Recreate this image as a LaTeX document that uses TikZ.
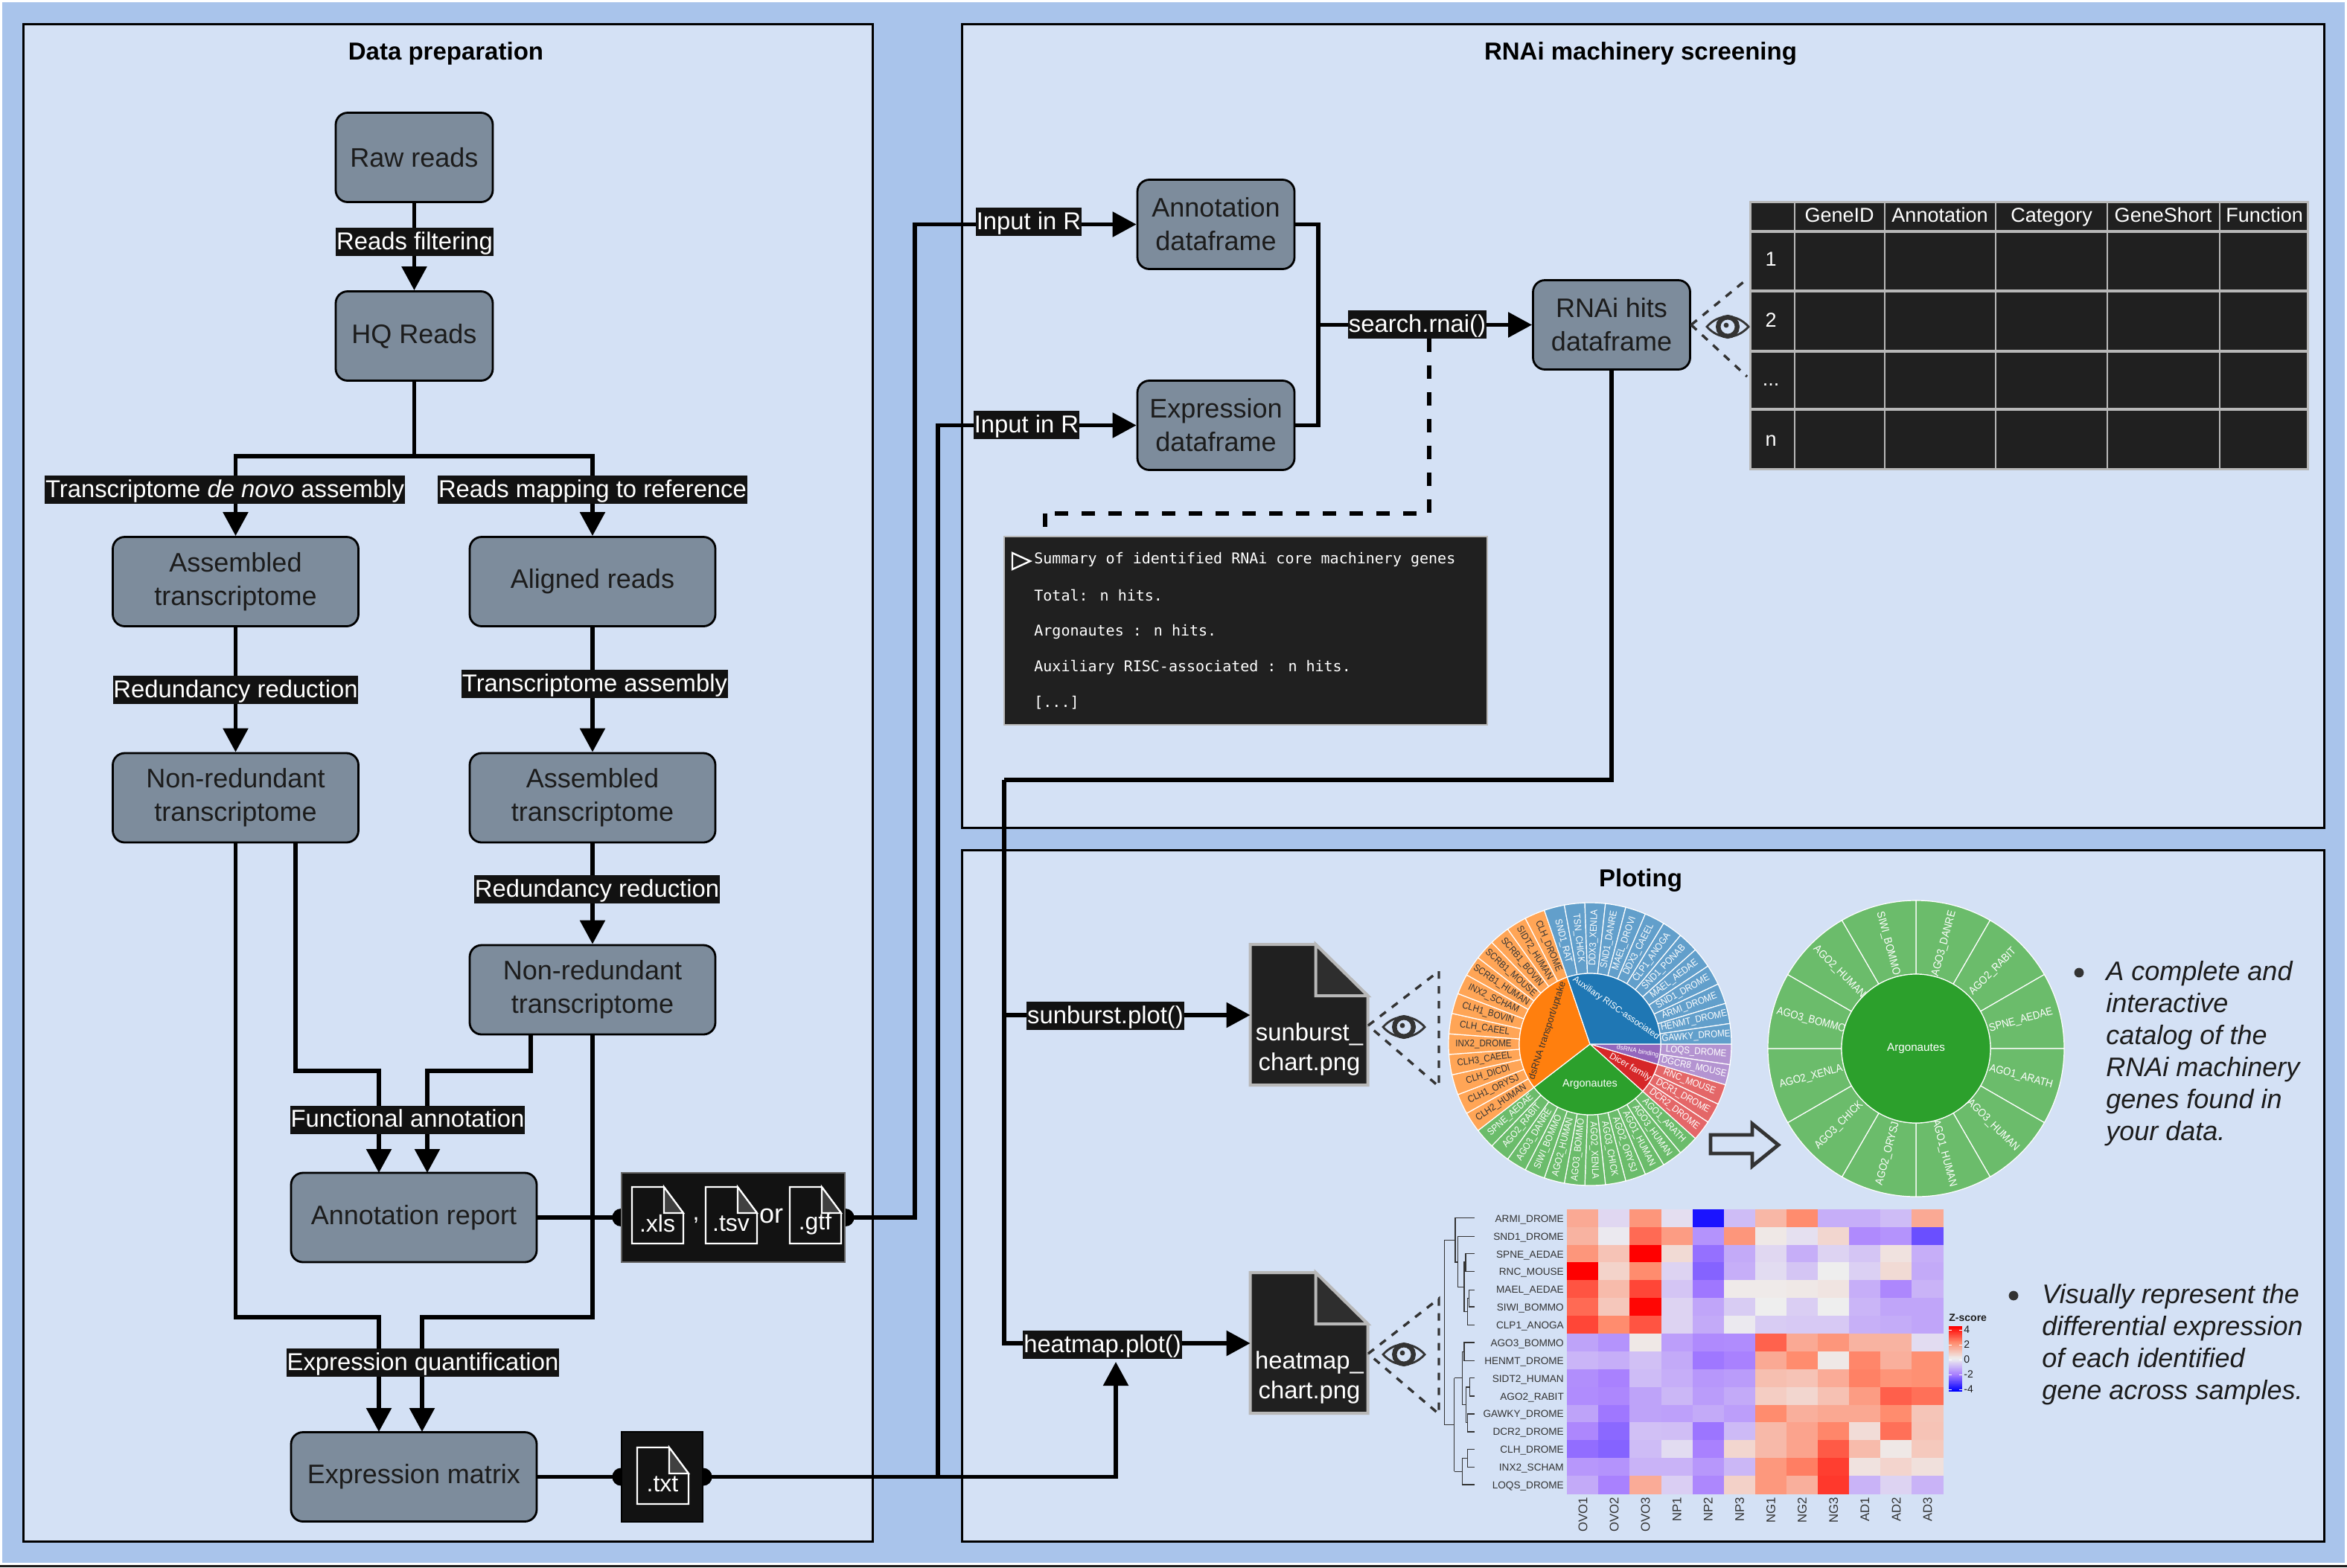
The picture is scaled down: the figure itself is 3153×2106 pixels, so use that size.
\documentclass[tikz,border=0pt]{standalone}
\usepackage{fontspec}
\setmainfont{Liberation Sans}
\newfontfamily\termfont{DejaVu Sans Mono}
\newfontfamily\narrowfont[FakeStretch=0.89]{Liberation Sans}
\usetikzlibrary{arrows.meta}

\definecolor{pagebg}{HTML}{A9C4EB}
\definecolor{panelbg}{HTML}{D4E1F5}
\definecolor{boxgrey}{HTML}{7D8C9C}
\definecolor{inkdark}{HTML}{1C1C1C}
\definecolor{tabledark}{HTML}{202020}
\definecolor{filedark}{HTML}{121212}
\definecolor{rimgrey}{HTML}{B8B8B8}
\definecolor{eyegrey}{HTML}{333333}
\definecolor{hmzero}{HTML}{EEEEEE}
\definecolor{hmhot}{HTML}{FF8C6E}
\definecolor{hmcold}{HTML}{A67CFF}
\definecolor{sunblue}{HTML}{1F77B4}
\definecolor{sunorange}{HTML}{FF7F0E}
\definecolor{sungreen}{HTML}{2CA02C}
\definecolor{sunred}{HTML}{D62728}
\definecolor{sunpurple}{HTML}{9467BD}
\definecolor{leafblue}{HTML}{629FCB}
\definecolor{leaforange}{HTML}{FFA556}
\definecolor{leafgreen}{HTML}{6BBC6B}
\definecolor{leafred}{HTML}{E46768}
\definecolor{leafpurple}{HTML}{B494D1}

\tikzset{
    panelbox/.style={draw=black, line width=1.5pt, fill=panelbg},
    paneltitle/.style={font=\fontsize{16.5}{20}\selectfont\bfseries, text=black},
    flowbox/.style={draw=black, line width=1.4pt, fill=boxgrey, rounded corners=8pt, text=inkdark,
        align=center, inner sep=0pt, minimum width=165pt, minimum height=60pt,
        font=\fontsize{18}{22.5}\selectfont},
    smallbox/.style={flowbox, minimum width=105.5pt},
    tworow/.style={execute at begin node=\rule{0pt}{15pt}},
    steplabel/.style={fill=filedark, text=white, inner xsep=0.4pt, inner ysep=0pt,
        text height=13.5pt, text depth=3.3pt, minimum height=19pt, font=\fontsize{16.4}{19}\selectfont},
    link/.style={line width=2.8pt},
    flow/.style={link, -{Triangle[length=16pt,width=16.5pt]}},
    searchdash/.style={line width=2.8pt, dash pattern=on 9pt off 9pt},
    filebox/.style={fill=filedark, draw=black!60, line width=0.6pt, inner sep=0pt},
    filetext/.style={text=white, inner sep=0pt, font=\fontsize{16}{19}\selectfont},
    docbox/.style={inner sep=0pt, minimum width=79pt, minimum height=94.5pt},
    docrim/.style={draw=rimgrey, line width=2pt, fill=tabledark},
    doctext/.style={text=white, align=center, inner sep=0pt, font=\fontsize{16.4}{20}\selectfont},
    lookline/.style={draw=eyegrey, line width=1.7pt, dash pattern=on 5pt off 5pt},
    tablehead/.style={text=white, inner sep=0pt, text height=10pt, text depth=3pt,
        font=\fontsize{13.5}{16}\selectfont},
    termline/.style={text=white, anchor=west, inner sep=0pt, font=\termfont\fontsize{10}{12}\selectfont},
    notetext/.style={text=inkdark, anchor=west, align=left, inner sep=0pt,
        font=\fontsize{18}{21.5}\selectfont\itshape},
    sunwedge/.style={draw=white, line width=0.6pt},
    leaftext/.style={inner sep=0pt, font=\narrowfont\fontsize{6.5}{7}\selectfont},
    hmtext/.style={text=eyegrey, inner sep=0pt},
    eyeicon/.pic={
        \draw[eyegrey, line width=1.4pt] (-14pt,0) .. controls (-6pt,9pt) and (6pt,9pt) .. (14pt,0)
            .. controls (6pt,-9pt) and (-6pt,-9pt) .. (-14pt,0) -- cycle;
        \draw[eyegrey, line width=3.2pt] (0,0) circle (6.4pt);
        \fill[eyegrey] (-1pt,1pt) circle (1.7pt);
    }
}

\newcommand{\rowdots}{...}

% name, top left corner, extension
\newcommand{\fileicon}[3]{
    \coordinate (#1) at (#2);
    \draw[white, line width=1.1pt, fill=filedark] (#1) -- ++(43,0) -- ++(26,35) -- ++(0,41) -- ++(-69,0) -- cycle;
    \draw[white, line width=1.1pt, fill=black!75] (#1) ++(43,0) -- ++(26,35) -- ++(-26,0) -- cycle;
    \node[filetext] (#1text) at ([xshift=17pt,yshift=-24.5pt]#1) {#3};
}

% name, centre, text
\newcommand{\chartdoc}[3]{
    \node[docbox] (#1) at (#2) {};
    \draw[docrim] (#1.north west) -- ++(88,0) -- ++(70,69) -- ++(0,120) -- ++(-158,0) -- cycle;
    \draw[docrim, fill=black!82] (#1.north west) ++(88,0) -- ++(70,69) -- ++(-70,0) -- cycle;
    \node[doctext] (#1text) at ([yshift=-23pt]#1.center) {#3};
}

\newcommand{\hmsetcolor}[1]{
    \pgfmathtruncatemacro{\hmmix}{2*abs(#1)}
    \ifnum#1>50
        \pgfmathtruncatemacro{\hmmix}{2*(#1)-100}
        \colorlet{hmcell}{red!\hmmix!hmhot}
    \else\ifnum#1>-1
        \colorlet{hmcell}{hmhot!\hmmix!hmzero}
    \else\ifnum#1>-51
        \colorlet{hmcell}{hmcold!\hmmix!hmzero}
    \else
        \pgfmathtruncatemacro{\hmmix}{-2*(#1)-100}
        \colorlet{hmcell}{blue!\hmmix!hmcold}
    \fi\fi\fi
}

\begin{document}
\begin{tikzpicture}[x=0.5pt, y=-0.5pt]
    \useasboundingbox (0,0) rectangle (3153,2106);
    \fill[pagebg] (3,3) rectangle (3150,2100);
    \fill[inkdark] (0,2103) rectangle (3153,2106);

    % panels
    \draw[panelbox] (31.5,32) rectangle (1172,2071);
    \draw[panelbox] (1292,32) rectangle (3122,1112);
    \draw[panelbox] (1292,1142) rectangle (3122,2071);
    \node[paneltitle] (datatitle) at (599,72) {Data preparation};
    \node[paneltitle] (screentitle) at (2204,72) {RNAi machinery screening};
    \node[paneltitle] (plottitle) at (2204,1183) {Ploting};

    % data preparation
    \node[smallbox] (rawreads) at (556.5,211.5) {Raw reads};
    \node[smallbox] (hqreads) at (556.5,451.5) {HQ Reads};
    \node[flowbox, tworow] (assemL) at (316.5,781.5) {Assembled\\transcriptome};
    \node[flowbox] (aligned) at (796,781.5) {Aligned reads};
    \node[flowbox, tworow] (nonredL) at (316.5,1072) {Non-redundant\\transcriptome};
    \node[flowbox, tworow] (assemR) at (796,1072) {Assembled\\transcriptome};
    \node[flowbox, tworow] (nonredR) at (796,1330) {Non-redundant\\transcriptome};
    \node[flowbox] (annotreport) at (556,1636) {Annotation report};
    \node[flowbox] (exprmatrix) at (556,1984.5) {Expression matrix};
    \node[filebox, minimum width=150pt, minimum height=60pt] (xlsbox) at (985,1636) {};
    \node[filebox, minimum width=54.5pt, minimum height=60.5pt, draw=black] (txtbox) at (889.5,1984.5) {};

    % dataframes
    \node[smallbox] (annodf) at (1633.5,301.5) {Annotation\\dataframe};
    \node[smallbox] (exprdf) at (1633.5,571.5) {Expression\\dataframe};
    \node[smallbox] (rnaihits) at (2165,436.5) {RNAi hits\\dataframe};
    \chartdoc{sunburstdoc}{1759,1364}{sunburst\_\\chart.png}
    \chartdoc{heatmapdoc}{1759,1805}{heatmap\_\\chart.png}

    \coordinate (branch) at (556.5,613);
    \coordinate (nrlout) at (397,1132);
    \coordinate (nrrout) at (713,1391);
    \coordinate (annotinA) at (509,1576);
    \coordinate (annotinB) at (574,1576);
    \coordinate (exprinA) at (509,1924);
    \coordinate (exprinB) at (567,1924);
    \coordinate (searchjoin) at (1771,436.5);
    \coordinate (hitsturn) at (1349,1048);
    \coordinate (hitsbranch) at (1349,1364);
    \coordinate (heatin) at (1499,1830);
    \coordinate (dashtop) at (1920,455);
    \coordinate (dashturn) at (1404,690);
    \coordinate (dashend) at (1404,722);

    \draw[flow] (rawreads.south) -- (hqreads.north);
    \draw[link] (hqreads.south) -- (branch);
    \draw[flow] (branch) -| (assemL.north);
    \draw[flow] (branch) -| (aligned.north);
    \draw[flow] (assemL.south) -- (nonredL.north);
    \draw[flow] (aligned.south) -- (assemR.north);
    \draw[flow] (assemR.south) -- (nonredR.north);
    \draw[flow] (nrlout) -- (397,1439) -| (annotinA);
    \draw[flow] (nrrout) -- (713,1439) -| (annotinB);
    \draw[flow] (nonredL.south) -- (316.5,1770) -| (exprinA);
    \draw[flow] (nonredR.south) -- (796,1770) -| (exprinB);
    \draw[link] (annotreport.east) -- (xlsbox.west);
    \draw[link] (exprmatrix.east) -- (txtbox.west);
    \draw[flow] (xlsbox.east) -- (1229,1636) |- (annodf.west);
    \draw[flow] (txtbox.east) -- (1260,1984.5) |- (exprdf.west);
    \draw[flow] (txtbox.east) -| (heatin);
    \draw[link] (annodf.east) -| (searchjoin);
    \draw[link] (exprdf.east) -| (searchjoin);
    \draw[flow] (searchjoin) -- (rnaihits.west);
    \draw[link] (rnaihits.south) |- (hitsturn);
    \draw[flow] (hitsturn) |- (heatmapdoc.west);
    \draw[flow] (hitsbranch) -- (sunburstdoc.west);
    \draw[searchdash] (dashtop) |- (dashturn);
    \draw[searchdash] (dashturn) -- (dashend);

    \foreach \dot in {xlsbox.west, xlsbox.east, txtbox.west, txtbox.east} {
        \fill[black] (\dot) circle (6pt);
    }
    % boxes again over the dots
    \node[filebox, minimum width=150pt, minimum height=60pt] (xlsfront) at (985,1636) {};
    \node[filebox, minimum width=54.5pt, minimum height=60.5pt, draw=black] (txtfront) at (889.5,1984.5) {};
    \fileicon{xlsicon}{849,1595}{.xls}
    \fileicon{tsvicon}{948,1595}{.tsv}
    \fileicon{gtficon}{1061,1595}{.gtf}
    \fileicon{txticon}{856,1945}{.txt}
    \node[filetext] (xlscomma) at (935,1640) {,};
    \node[filetext, font=\fontsize{18}{20}\selectfont] (xlsor) at (1036,1634) {or};

    % labels on the connectors
    \node[steplabel] (filterlabel) at (557,325) {Reads filtering};
    \node[steplabel] (denovolabel) at (302,658) {Transcriptome \textit{de novo} assembly};
    \node[steplabel] (mappinglabel) at (796,658) {Reads mapping to reference};
    \node[steplabel] (reduceLlabel) at (316.5,927) {Redundancy reduction};
    \node[steplabel] (assemblylabel) at (799,919) {Transcriptome assembly};
    \node[steplabel] (reduceRlabel) at (802,1195) {Redundancy reduction};
    \node[steplabel] (annotlabel) at (547.5,1504.5) {Functional annotation};
    \node[steplabel] (quantlabel) at (568,1831) {Expression quantification};
    \node[steplabel] (inputAlabel) at (1382,298) {Input in R};
    \node[steplabel] (inputBlabel) at (1379,571) {Input in R};
    \node[steplabel] (searchlabel) at (1904,436) {search.rnai()};
    \node[steplabel] (sunburstlabel) at (1485,1365) {sunburst.plot()};
    \node[steplabel] (heatmaplabel) at (1481,1807) {heatmap.plot()};

    % hits table
    \fill[tabledark] (2351,271) rectangle (3100.5,630.5);
    \foreach \colx in {2411,2532,2681,2831,2982} {
        \draw[rimgrey, line width=1pt] (\colx,271) -- (\colx,630.5);
    }
    \foreach \rowy in {311,391,472,550} {
        \draw[rimgrey, line width=1.6pt] (2351,\rowy) -- (3100.5,\rowy);
    }
    \draw[rimgrey, line width=1.5pt] (2351,271) rectangle (3100.5,630.5);
    \foreach \head/\colx in {GeneID/2471, Annotation/2606, Category/2756, GeneShort/2906, Function/3042} {
        \node[tablehead] (head\head) at (\colx,291) {\head};
    }
    \foreach \rowname/\rowy in {1/350, 2/432, \rowdots/511, n/592} {
        \node[tablehead] (row\rowy) at (2379,\rowy) {\rowname};
    }
    \coordinate (tablelookA) at (2347,375);
    \coordinate (tablelookB) at (2347,506);
    \draw[lookline] (rnaihits.east) -- (tablelookA);
    \draw[lookline] (rnaihits.east) -- (tablelookB);
    \pic at (2321,439) {eyeicon};

    % summary terminal
    \draw[rimgrey, line width=1.2pt, fill=tabledark] (1349,721) rectangle (1998,974);
    \draw[white, line width=1.2pt] (1360,743) -- (1384,754) -- (1360,765) -- cycle;
    \node[termline] (termA) at (1389,752) {Summary of identified RNAi core machinery genes};
    \node[termline] (termB) at (1389,800) {Total: n hits.};
    \node[termline] (termC) at (1389,849) {Argonautes : n hits.};
    \node[termline] (termD) at (1389,897) {Auxiliary RISC-associated : n hits.};
    \node[termline] (termE) at (1389,944) {[...]};

    % looks from the documents to the charts
    \coordinate (sunlookA) at (1933,1305);
    \coordinate (sunlookB) at (1933,1460);
    \coordinate (heatlookA) at (1933,1745);
    \coordinate (heatlookB) at (1933,1900);
    \draw[lookline] (1838,1378) -- (sunlookA) -- (sunlookB) -- (1838,1378);
    \draw[lookline] (1838,1819) -- (heatlookA) -- (heatlookB) -- (1838,1819);
    \pic at (1886,1380) {eyeicon};
    \pic at (1886,1820) {eyeicon};

    % full sunburst
    \begin{scope}[shift={(2136,1403)}]
        \foreach \leaf/\fillcol/\textcol [count=\n from 0] in {
            LOQS\_DROME/leafpurple/white, DGCR8\_MOUSE/leafpurple/white,
            RNC\_MOUSE/leafred/white, DCR1\_DROME/leafred/white, DCR2\_DROME/leafred/white,
            AGO1\_ARATH/leafgreen/white, AGO3\_HUMAN/leafgreen/white, AGO1\_HUMAN/leafgreen/white,
            AGO2\_ORYSJ/leafgreen/white, AGO3\_CHICK/leafgreen/white, AGO2\_XENLA/leafgreen/white,
            AGO3\_BOMMO/leafgreen/white, AGO2\_HUMAN/leafgreen/white, SIWI\_BOMMO/leafgreen/white,
            AGO3\_DANRE/leafgreen/white, AGO2\_RABIT/leafgreen/white, SPNE\_AEDAE/leafgreen/white,
            CLH2\_HUMAN/leaforange/eyegrey, CLH1\_ORYSJ/leaforange/eyegrey, CLH\_DICDI/leaforange/eyegrey,
            CLH3\_CAEEL/leaforange/eyegrey, INX2\_DROME/leaforange/eyegrey, CLH\_CAEEL/leaforange/eyegrey,
            CLH1\_BOVIN/leaforange/eyegrey, INX2\_SCHAM/leaforange/eyegrey, SCRB1\_HUMAN/leaforange/eyegrey,
            SCRB1\_MOUSE/leaforange/eyegrey, SCRB1\_BOVIN/leaforange/eyegrey, SIDT2\_HUMAN/leaforange/eyegrey,
            CLH\_DROME/leaforange/eyegrey,
            SND1\_RAT/leafblue/white, TSN\_CHICK/leafblue/white, DDX3\_XENLA/leafblue/white,
            SND1\_DANRE/leafblue/white, MAEL\_DROVI/leafblue/white, DDX3\_CAEEL/leafblue/white,
            CLP1\_ANOGA/leafblue/white, SND1\_PONAB/leafblue/white, MAEL\_AEDAE/leafblue/white,
            SND1\_DROME/leafblue/white, ARMI\_DROME/leafblue/white, HENMT\_DROME/leafblue/white,
            GAWKY\_DROME/leafblue/white} {
            \pgfmathsetmacro{\angA}{-\n*360/43}
            \pgfmathsetmacro{\angB}{-(\n+1)*360/43}
            \pgfmathsetmacro{\angM}{-(\n+0.5)*360/43}
            \pgfmathsetmacro{\turn}{cos(\angM)>=0 ? \angM : \angM+180}
            \filldraw[sunwedge, fill=\fillcol] (\angA:47.5pt) arc (\angA:\angB:47.5pt)
                -- (\angB:95pt) arc (\angB:\angA:95pt) -- cycle;
            \node[leaftext, text=\textcol, rotate=\turn] (sunleaf\n) at (\angM:71.5pt) {\leaf};
        }
        \foreach \angA/\angB/\fillcol in {0/-16.744/sunpurple, -16.744/-41.86/sunred, -41.86/-142.33/sungreen,
            -142.33/-251.16/sunorange, -251.16/-360/sunblue} {
            \filldraw[sunwedge, fill=\fillcol] (0,0) -- (\angA:47.5pt) arc (\angA:\angB:47.5pt) -- cycle;
        }
        \node[leaftext, text=white, rotate=-35, font=\fontsize{6}{7}\selectfont] (sunaux) at (17.5pt,24pt) {Auxiliary RISC-associated};
        \node[leaftext, text=eyegrey, rotate=72, font=\fontsize{6.4}{7}\selectfont] (sundsrna) at (-28.5pt,9pt) {dsRNA transport/uptake};
        \node[leaftext, text=white, font=\fontsize{7.2}{8}\selectfont] (sunargo) at (0pt,-27pt) {Argonautes};
        \node[leaftext, text=white, rotate=-30, font=\fontsize{6}{7}\selectfont] (sundicer) at (27pt,-15.5pt) {Dicer family};
        \node[leaftext, text=white, rotate=-11, font=\fontsize{4.3}{5}\selectfont] (sunbinding) at (32pt,-5pt) {dsRNA binding};
    \end{scope}

    % hollow arrow between the two sunbursts
    \draw[eyegrey, line width=2.4pt] (2298,1525) -- (2354,1525) -- (2354,1510) -- (2389,1538.5)
        -- (2354,1567) -- (2354,1550) -- (2298,1550) -- cycle;

    % argonautes sunburst
    \begin{scope}[shift={(2574,1409)}]
        \foreach \leaf [count=\n from 0] in {AGO3\_DANRE, AGO2\_RABIT, SPNE\_AEDAE, AGO1\_ARATH, AGO3\_HUMAN, AGO1\_HUMAN,
            AGO2\_ORYSJ, AGO3\_CHICK, AGO2\_XENLA, AGO3\_BOMMO, AGO2\_HUMAN, SIWI\_BOMMO} {
            \pgfmathsetmacro{\angA}{90-\n*30}
            \pgfmathsetmacro{\angB}{90-(\n+1)*30}
            \pgfmathsetmacro{\angM}{90-(\n+0.5)*30}
            \pgfmathsetmacro{\turn}{cos(\angM)>=0 ? \angM : \angM+180}
            \filldraw[sunwedge, fill=leafgreen] (\angA:50pt) arc (\angA:\angB:50pt)
                -- (\angB:99.5pt) arc (\angB:\angA:99.5pt) -- cycle;
            \node[leaftext, text=white, rotate=\turn, font=\narrowfont\fontsize{7.4}{8}\selectfont] (argoleaf\n) at (\angM:73pt) {\leaf};
        }
        \filldraw[sunwedge, fill=sungreen] (0,0) circle (50pt);
        \node[leaftext, text=white, font=\fontsize{7.6}{9}\selectfont] (argocentre) at (0,0) {Argonautes};
    \end{scope}

    % notes
    \fill[eyegrey] (2793,1307) circle (3.2pt);
    \node[notetext] (noteA) at (2829,1416) {A complete and\\interactive\\catalog of the\\RNAi machinery\\genes found in\\your data.};
    \fill[eyegrey] (2705,1741) circle (3.2pt);
    \node[notetext] (noteB) at (2743,1806.5) {Visually represent the\\differential expression\\of each identified\\gene across samples.};

    % heatmap
    \begin{scope}[shift={(2105.4,1625)}, x=21.05pt, y=-11.94pt]
        \foreach \row [count=\r from 0] in {
            {35,-10,45,-7,-92,-22,28,50,-28,-28,-22,35},
            {30,-2,62,42,-40,45,3,-6,12,-44,-40,-68},
            {45,22,100,10,-55,-30,-10,-28,-12,-18,6,-28},
            {100,14,50,-12,-60,-28,-8,-18,0,-13,10,-30},
            {70,26,75,-18,-52,2,2,3,5,-28,-45,-26},
            {62,20,98,-12,-32,-15,0,-14,0,-25,-32,-32},
            {75,50,70,-12,-30,-2,-15,-16,-16,-27,-29,-32},
            {-33,-40,3,-35,-44,-43,65,35,45,30,30,-8},
            {-25,-28,-20,-30,-52,-48,35,50,3,52,32,48},
            {-42,-48,-22,-28,-38,-36,24,22,34,54,46,48},
            {-43,-45,-33,-24,-36,-30,17,12,23,42,66,60},
            {-33,-52,-33,-34,-30,-35,50,32,36,36,50,21},
            {-45,-58,-20,-21,-53,-23,27,38,52,9,60,22},
            {-56,-60,-22,-8,-48,12,27,38,68,26,3,19},
            {-38,-40,-26,-26,-38,-24,44,55,78,6,13,7},
            {-30,-48,34,-14,-45,15,44,32,80,-26,-12,-26}} {
            \foreach \v [count=\c from 0] in \row {
                \hmsetcolor{\v}
                \filldraw[hmcell, line width=0.2pt] (\c,\r) rectangle ++(1,1);
            }
        }
        \foreach \gene [count=\r from 0] in {ARMI\_DROME, SND1\_DROME, SPNE\_AEDAE, RNC\_MOUSE, MAEL\_AEDAE, SIWI\_BOMMO,
            CLP1\_ANOGA, AGO3\_BOMMO, HENMT\_DROME, SIDT2\_HUMAN, AGO2\_RABIT, GAWKY\_DROME, DCR2\_DROME, CLH\_DROME,
            INX2\_SCHAM, LOQS\_DROME} {
            \node[hmtext, anchor=east, font=\fontsize{6.8}{8}\selectfont] (gene\r) at (-0.1,\r+0.58) {\gene};
        }
        \foreach \sample [count=\c from 0] in {OVO1, OVO2, OVO3, NP1, NP2, NP3, NG1, NG2, NG3, AD1, AD2, AD3} {
            \node[hmtext, anchor=east, rotate=90, font=\fontsize{8.4}{10}\selectfont] (sample\c) at (\c+0.5,16.2) {\sample};
        }
    \end{scope}

    % dendrogram
    \begin{scope}[shift={(1880,1600)}, x=0.2615pt, y=-0.1667pt]
        \draw[eyegrey, line width=0.7pt]
            (141,943) -- (116,943) -- (116,199) -- (143,199)
            (193,110) -- (143,110) -- (143,288) -- (150,288)
            (193,184) -- (150,184) -- (150,388) -- (166,388)
            (170,288) -- (166,288) -- (166,488) -- (175,488)
            (193,253) -- (170,253) -- (170,325) -- (193,325)
            (175,433) -- (175,542) -- (193,542)
            (175,433) -- (179,433)
            (193,400) -- (179,400) -- (179,468) -- (193,468)
            (141,755) -- (141,1132)
            (141,755) -- (162,755)
            (166,650) -- (162,650) -- (162,862) -- (171,862)
            (193,612) -- (166,612) -- (166,686) -- (193,686)
            (181,792) -- (171,792) -- (171,935) -- (175,935)
            (193,755) -- (181,755) -- (181,828) -- (193,828)
            (193,900) -- (175,900) -- (175,972) -- (193,972)
            (141,1132) -- (162,1132)
            (175,1078) -- (162,1078) -- (162,1185) -- (193,1185)
            (193,1043) -- (175,1043) -- (175,1114) -- (193,1114);
    \end{scope}

    % z-score legend
    \node[hmtext, text=inkdark, anchor=west, font=\fontsize{7}{8}\selectfont\bfseries] (zlabel) at (2618,1771) {Z-score};
    \foreach \k in {0,...,43} {
        \pgfmathtruncatemacro{\zval}{100-\k*200/43}
        \hmsetcolor{\zval}
        \fill[hmcell] (2618,{1782+\k*2}) rectangle (2636,{1784.2+\k*2});
    }
    \foreach \tickval/\ticky in {4/1787, 2/1807, 0/1827, -2/1847, -4/1867} {
        \draw[white, line width=0.4pt] (2618,\ticky) -- (2622,\ticky) (2632,\ticky) -- (2636,\ticky);
        \node[hmtext, text=inkdark, anchor=west, font=\fontsize{7}{8}\selectfont] (ztick\ticky) at (2638,\ticky) {\tickval};
    }
\end{tikzpicture}
\end{document}
